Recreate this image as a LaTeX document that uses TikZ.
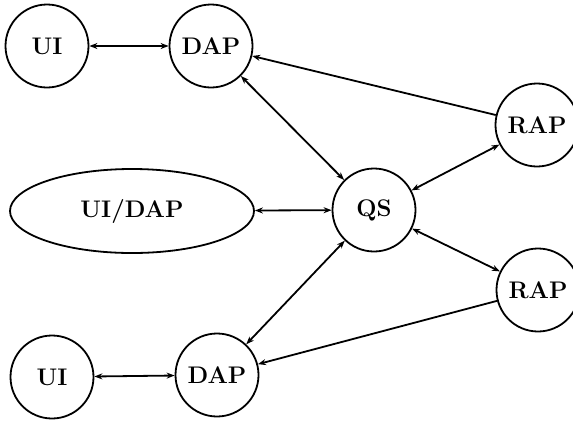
\documentclass[tikz,border=0pt]{standalone}
\usetikzlibrary{shapes.geometric,arrows.meta}
\begin{document}
\begin{tikzpicture}[x=0.5pt,y=-0.5pt,
  every node/.style={font=\fontsize{12}{14}\selectfont\bfseries},
  proc/.style={circle,draw,line width=0.9pt,minimum size=41.5pt,inner sep=0pt},
  oval/.style={ellipse,draw,line width=0.9pt,minimum width=122pt,minimum height=42pt,inner sep=0pt},
  link/.style={line width=0.9pt,-{Stealth[length=4pt,width=3pt]}},
  blink/.style={line width=0.9pt,{Stealth[length=4pt,width=3pt]}-{Stealth[length=4pt,width=3pt]}}]
\useasboundingbox (0,0) rectangle (573,424);
\node[proc] (ui1) at (47,46) {UI};
\node[proc] (dap1) at (211,46) {DAP};
\node[proc] (rap1) at (537,125) {RAP};
\node[oval] (uidap) at (132,211) {UI/DAP};
\node[proc] (qs) at (374,210) {QS};
\node[proc] (rap2) at (538,290) {RAP};
\node[proc] (ui2) at (52,377) {UI};
\node[proc] (dap2) at (217,375) {DAP};
\draw[blink] (ui1) -- (dap1);
\draw[blink] (dap1) -- (qs);
\draw[link] (rap1) -- (dap1);
\draw[blink] (qs) -- (rap1);
\draw[blink] (uidap) -- (qs);
\draw[blink] (qs) -- (rap2);
\draw[blink] (qs) -- (dap2);
\draw[link] (rap2) -- (dap2);
\draw[blink] (ui2) -- (dap2);
\end{tikzpicture}
\end{document}
